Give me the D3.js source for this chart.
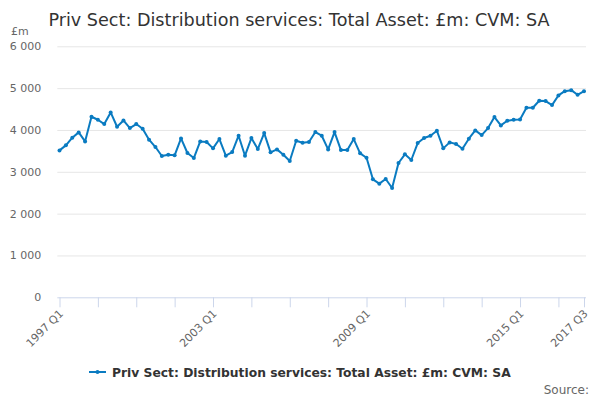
<!DOCTYPE html>
<html>
<head>
<meta charset="utf-8">
<script src="https://cdn.jsdelivr.net/npm/d3@7"></script>
<style>
html,body{margin:0;padding:0;background:#fff;}
svg{display:block;font-family:"DejaVu Sans",sans-serif;}
</style>
</head>
<body>
<svg id="chart" width="600" height="400"></svg>
<script>
const titleText = "Priv Sect: Distribution services: Total Asset: £m: CVM: SA";
const seriesName = "Priv Sect: Distribution services: Total Asset: £m: CVM: SA";
const unitLabel = "£m";
const sourceText = "Source:";

// quarterly categories 1997 Q1 .. 2017 Q3
const categories = [];
for (let y = 1997; y <= 2017; y++) {
  for (let q = 1; q <= 4; q++) {
    if (y === 2017 && q > 3) break;
    categories.push(y + " Q" + q);
  }
}

const values = [
  3512,3632,3815,3942,3727,4316,4244,4141,4419,4077,4228,4045,4141,4029,3767,3592,3377,3409,3393,3799,
  3449,3329,3727,3711,3560,3783,3385,3473,3862,3385,3807,3544,3926,3465,3536,3409,3258,3743,3695,3711,
  3950,3862,3536,3950,3520,3520,3783,3441,3337,2820,2717,2828,2613,3210,3417,3282,3687,3807,3862,3982,
  3560,3703,3663,3552,3791,3990,3878,4045,4308,4109,4220,4244,4252,4531,4531,4698,4690,4594,4825,4928,
  4952,4841,4928
];

const yTicks = [0,1000,2000,3000,4000,5000,6000];
const xTickCats = ["1997 Q1","1998 Q3","2000 Q1","2001 Q3","2003 Q1","2004 Q3","2006 Q1","2007 Q3",
  "2009 Q1","2010 Q3","2012 Q1","2013 Q3","2015 Q1","2016 Q3","2017 Q3"];
const xLabelCats = ["1997 Q1","2003 Q1","2009 Q1","2015 Q1","2017 Q3"];

const color = "#0a7bc1";
const svg = d3.select("#chart");

const plotLeft = 57.3, plotRight = 586, plotTop = 46.3, plotBottom = 297.3;

const x = d3.scalePoint().domain(categories).range([59.5, 584]);
const y = d3.scaleLinear().domain([0, 6000]).range([plotBottom, plotTop]);

// title
svg.append("text").attr("x", 299).attr("y", 26).attr("text-anchor", "middle")
  .attr("font-size", 17.6).attr("fill", "#333").text(titleText);

// unit label
svg.append("text").attr("x", 11).attr("y", 35).attr("font-size", 11)
  .attr("fill", "#666").text(unitLabel);

// grid + y labels
const yAxis = d3.axisLeft(y).tickValues(yTicks).tickSize(-(plotRight - plotLeft))
  .tickFormat(v => d3.format(",")(v).replace(/,/g, " ")).tickPadding(16);
const gy = svg.append("g").attr("transform", `translate(${plotLeft},0)`).call(yAxis);
gy.select(".domain").remove();
gy.selectAll(".tick line").attr("stroke", "#e6e6e6").attr("stroke-width", 1)
  .filter(d => d === 0).remove();
gy.selectAll(".tick text").attr("fill", "#666").attr("font-size", 11)
  .attr("font-family", "DejaVu Sans, sans-serif");

// x axis
const xAxis = d3.axisBottom(x).tickValues(xTickCats).tickSize(10).tickSizeOuter(0)
  .tickFormat(d => xLabelCats.includes(d) ? d : "");
const gx = svg.append("g").attr("transform", `translate(0,${plotBottom})`).call(xAxis);
gx.select(".domain").attr("d", `M${plotLeft},0.5H${plotRight}`).attr("stroke", "#ccd6eb");
gx.selectAll(".tick line").attr("stroke", "#ccd6eb");
gx.selectAll(".tick text").attr("fill", "#666").attr("font-size", 11)
  .attr("font-family", "DejaVu Sans, sans-serif")
  .attr("text-anchor", "end").attr("dy", null).attr("y", 0)
  .attr("transform", "translate(4,17) rotate(-45)");

// line
const line = d3.line().x((d, i) => x(categories[i])).y(d => y(d));
svg.append("path").datum(values).attr("d", line).attr("fill", "none")
  .attr("stroke", color).attr("stroke-width", 2).attr("stroke-linejoin", "round");
svg.append("g").selectAll("circle").data(values).join("circle")
  .attr("cx", (d, i) => x(categories[i])).attr("cy", d => y(d)).attr("r", 2)
  .attr("fill", color);

// legend
const lg = svg.append("g");
lg.append("line").attr("x1", 89).attr("x2", 106).attr("y1", 372).attr("y2", 372)
  .attr("stroke", color).attr("stroke-width", 2);
lg.append("circle").attr("cx", 97.5).attr("cy", 372).attr("r", 2).attr("fill", color);
lg.append("text").attr("x", 112).attr("y", 376.5).attr("font-size", 12.3)
  .attr("font-weight", "bold").attr("fill", "#333").text(seriesName);

// source
svg.append("text").attr("x", 589).attr("y", 394).attr("text-anchor", "end")
  .attr("font-size", 12).attr("fill", "#666").text(sourceText);
</script>
</body>
</html>
